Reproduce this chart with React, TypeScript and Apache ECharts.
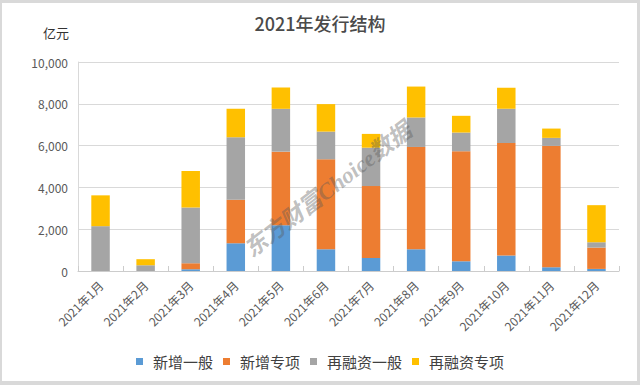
import React, { useEffect, useRef } from "react";
import * as echarts from "echarts";

const categories = [
  "2021年1月", "2021年2月", "2021年3月", "2021年4月", "2021年5月", "2021年6月",
  "2021年7月", "2021年8月", "2021年9月", "2021年10月", "2021年11月", "2021年12月",
];
const seriesNames = ["新增一般", "新增专项", "再融资一般", "再融资专项"];
const newGeneral = [0, 0, 80, 1330, 2190, 1040, 625, 1040, 465, 740, 180, 100];
const newSpecial = [0, 0, 290, 2080, 3520, 4305, 3440, 4895, 5265, 5390, 5805, 1020];
const refiGeneral = [2145, 275, 2670, 2990, 2050, 1325, 1835, 1410, 895, 1630, 385, 255];
const refiSpecial = [1475, 290, 1740, 1360, 1020, 1315, 660, 1480, 800, 1010, 445, 1775];
const colors = ["#5B9BD5", "#ED7D31", "#A5A5A5", "#FFC000"];

const FONT = "'Noto Sans CJK SC', 'Noto Sans', sans-serif";

export default function App() {
  const ref = useRef<HTMLDivElement>(null);
  useEffect(() => {
    if (!ref.current) return;
    const chart = echarts.init(ref.current, undefined, { renderer: "svg" });
    const dataSets = [newGeneral, newSpecial, refiGeneral, refiSpecial];
    chart.setOption({
      animation: false,
      backgroundColor: "#ffffff",
      textStyle: { fontFamily: FONT },
      title: {
        text: "2021年发行结构",
        left: "center",
        top: 14,
        padding: 0,
        textStyle: { fontSize: 18, fontWeight: 500, color: "#4a4a4a", fontFamily: FONT },
      },
      graphic: [
        {
          type: "text",
          left: 43,
          top: 26,
          style: { text: "亿元", fontSize: 13, fill: "#333333", fontFamily: FONT },
        },
        {
          type: "text",
          x: 328,
          y: 190,
          rotation: (37.6 * Math.PI) / 180,
          z: 100,
          style: {
            text: "东方财富Choice数据",
            fontSize: 23,
            fontWeight: "bold",
            fontStyle: "italic",
            fontFamily: "'Liberation Serif', 'Noto Sans CJK SC', serif",
            fill: "rgba(90,90,90,0.4)",
            align: "center",
            verticalAlign: "middle",
          },
        },
      ],
      legend: {
        data: seriesNames,
        left: "center",
        top: 349,
        itemWidth: 7,
        itemHeight: 7,
        itemGap: 10,
        icon: "rect",
        textStyle: { fontSize: 15, color: "#404040", fontFamily: FONT, padding: [0, 0, 0, 5] },
      },
      grid: { left: 78, right: 21, top: 62, bottom: 114, containLabel: false },
      xAxis: {
        type: "category",
        data: categories,
        boundaryGap: true,
        axisLine: { show: true, lineStyle: { color: "#cccccc", width: 1 } },
        axisTick: { show: true, inside: true, length: 5, lineStyle: { color: "#cccccc" } },
        axisLabel: { interval: 0, rotate: 45, fontSize: 12, color: "#595959", margin: 12, fontFamily: FONT },
      },
      yAxis: {
        type: "value",
        min: 0,
        max: 10000,
        interval: 2000,
        axisLine: { show: true, lineStyle: { color: "#d9d9d9" } },
        axisTick: { show: false },
        splitLine: { show: true, lineStyle: { color: "#d9d9d9", width: 1 } },
        axisLabel: {
          fontSize: 12,
          color: "#595959",
          margin: 10,
          fontFamily: FONT,
          formatter: (v: number) => v.toLocaleString("en-US"),
        },
      },
      series: seriesNames.map((name, i) => ({
        name,
        type: "bar",
        stack: "total",
        barWidth: "41%",
        data: dataSets[i],
        itemStyle: { color: colors[i] },
      })),
    });
    return () => chart.dispose();
  }, []);
  return (
    <div style={{ position: "fixed", left: 0, top: 0, width: 640, height: 385, background: "#fff" }}>
      <div ref={ref} style={{ position: "absolute", left: 0, top: 0, width: 640, height: 385 }} />
      <div
        style={{
          position: "absolute",
          left: 0,
          top: 0,
          width: 640,
          height: 385,
          boxSizing: "border-box",
          borderStyle: "solid",
          borderColor: "#d9d9d9",
          borderWidth: "3px 3px 4px 2px",
          pointerEvents: "none",
        }}
      />
    </div>
  );
}
